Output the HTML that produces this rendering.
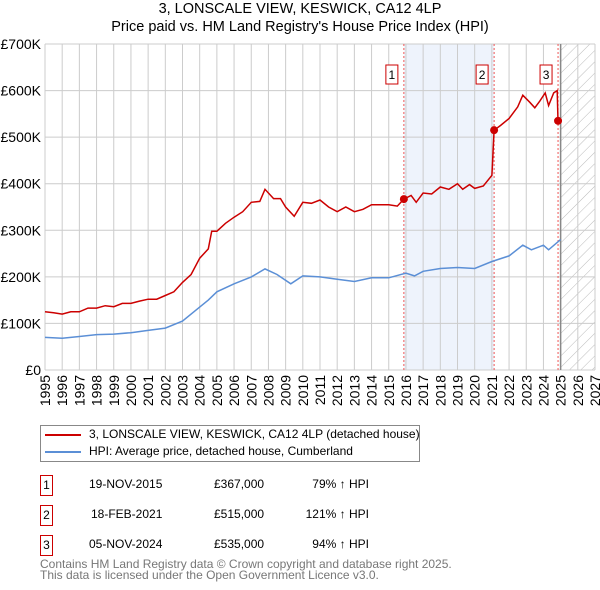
<!DOCTYPE html>
<html><head><meta charset="utf-8"><style>
body{margin:0;background:#fff;font-family:"Liberation Sans","DejaVu Sans",sans-serif;}
#wrap{position:relative;width:600px;height:590px;overflow:hidden}
.t{position:absolute;font-size:12px;color:#000;white-space:nowrap}
.box{position:absolute;width:11px;height:19px;border:1px solid #c00;font-size:12px;text-align:center;line-height:19px}
</style></head><body><div id="wrap">
<div class="t" style="left:0;width:600px;text-align:center;top:1px;font-size:14.5px">3, LONSCALE VIEW, KESWICK, CA12 4LP</div>
<div class="t" style="left:0;width:600px;text-align:center;top:19px;font-size:14.5px">Price paid vs. HM Land Registry's House Price Index (HPI)</div>
<svg id="chart" width="600" height="420" style="position:absolute;left:0;top:0"></svg>
<div style="position:absolute;left:40px;top:425px;width:378px;height:35px;border:1px solid #888">
<div style="position:absolute;left:4px;top:8px;width:36px;height:2px;background:#c00"></div>
<div class="t" style="left:48px;top:1px">3, LONSCALE VIEW, KESWICK, CA12 4LP (detached house)</div>
<div style="position:absolute;left:4px;top:25px;width:36px;height:2px;background:#5b8fd6"></div>
<div class="t" style="left:48px;top:18px">HPI: Average price, detached house, Cumberland</div>
</div>
<div>
<div class="box" style="left:40px;top:475px">1</div>
<div class="t" style="left:89px;top:477px">19-NOV-2015</div>
<div class="t" style="left:214px;top:477px">£367,000</div>
<div class="t" style="right:231px;top:477px">79% ↑ HPI</div>
<div class="box" style="left:40px;top:505px">2</div>
<div class="t" style="left:91px;top:507px">18-FEB-2021</div>
<div class="t" style="left:214px;top:507px">£515,000</div>
<div class="t" style="right:231px;top:507px">121% ↑ HPI</div>
<div class="box" style="left:40px;top:535px">3</div>
<div class="t" style="left:89px;top:537px">05-NOV-2024</div>
<div class="t" style="left:214px;top:537px">£535,000</div>
<div class="t" style="right:231px;top:537px">94% ↑ HPI</div>
</div>
<div class="t" style="left:40px;top:559px;color:#777;line-height:11px">Contains HM Land Registry data © Crown copyright and database right 2025.<br>This data is licensed under the Open Government Licence v3.0.</div>
</div>
<script>
const yTicks=[0,100,200,300,400,500,600,700];
const yLabels=["£0","£100K","£200K","£300K","£400K","£500K","£600K","£700K"];
const years=[1995,1996,1997,1998,1999,2000,2001,2002,2003,2004,2005,2006,2007,2008,2009,2010,2011,2012,2013,2014,2015,2016,2017,2018,2019,2020,2021,2022,2023,2024,2025,2026,2027];
const priceT=[1995,1995.5,1996,1996.5,1997,1997.5,1998,1998.5,1999,1999.5,2000,2000.5,2001,2001.5,2002,2002.5,2003,2003.5,2004,2004.5,2004.7,2005,2005.5,2006,2006.5,2007,2007.5,2007.8,2008.3,2008.7,2009,2009.5,2010,2010.5,2011,2011.5,2012,2012.5,2013,2013.5,2014,2014.5,2015,2015.5,2015.88,2016.3,2016.6,2017,2017.5,2018,2018.5,2019,2019.3,2019.7,2020,2020.5,2021,2021.13,2021.5,2022,2022.5,2022.8,2023.2,2023.5,2023.8,2024.1,2024.3,2024.6,2024.8,2024.85];
const priceV=[125,123,120,125,125,133,133,138,136,143,143,148,152,152,160,168,188,205,240,260,298,298,315,328,340,360,362,388,368,368,350,330,360,358,365,350,340,350,340,345,355,355,355,352,367,375,360,380,378,393,388,400,388,398,390,395,418,515,525,540,565,590,575,563,578,595,568,595,600,535];
const hpiT=[1995,1996,1997,1998,1999,2000,2001,2002,2003,2004,2004.5,2005,2006,2007,2007.8,2008.5,2009.3,2010,2011,2012,2013,2014,2015,2016,2016.5,2017,2018,2019,2020,2021,2022,2022.8,2023.3,2024,2024.3,2025];
const hpiV=[70,68,72,76,77,80,85,90,105,135,150,168,185,200,217,205,185,202,200,195,190,198,198,208,202,212,218,220,218,233,245,268,258,268,258,280];
const saleT=[2015.88,2021.13,2024.85];
const saleV=[367,515,535];
const saleL=["1","2","3"];
const X0=45,X1=595,Y0=370,Y1=44;
const x=t=>X0+(t-1995)*(X1-X0)/32;
const y=v=>Y0-v*(Y0-Y1)/700;
const svg=document.getElementById('chart');const NS='http://www.w3.org/2000/svg';
function mk(tag,at){const e=document.createElementNS(NS,tag);for(const k in at)e.setAttribute(k,at[k]);svg.appendChild(e);return e;}
let defs=mk('defs',{});
defs.innerHTML='<pattern id="hatch" width="8" height="8" patternUnits="userSpaceOnUse" patternTransform="rotate(45)"><line x1="0" y1="0" x2="0" y2="8" stroke="#bbb" stroke-width="1"/></pattern>';
let r=mk('rect',{x:x(saleT[0]),y:Y1,width:x(saleT[1])-x(saleT[0]),height:Y0-Y1,fill:'#eef3fc'});


let h=mk('rect',{x:x(2025),y:Y1,width:X1-x(2025),height:Y0-Y1,fill:'url(#hatch)'});


yTicks.forEach((v,i)=>{let l=mk('line',{x1:X0,x2:X1,y1:y(v),y2:y(v),stroke:'#ccc'});


let t=mk('text',{x:X0-4,y:y(v)+5,'text-anchor':'end','font-size':14,'font-family':'Liberation Sans, sans-serif'});t.textContent=yLabels[i];

});
years.forEach(yr=>{let l=mk('line',{x1:x(yr),x2:x(yr),y1:Y1,y2:Y0,stroke:'#ccc'});


let t=mk('text',{x:0,y:0,'text-anchor':'end','font-size':14,'font-family':'Liberation Sans, sans-serif',transform:`translate(${x(yr)+5},${Y0+5}) rotate(-90)`});t.textContent=yr;

});
let vl=mk('line',{x1:x(2025),x2:x(2025),y1:Y1,y2:Y0,stroke:'#888','stroke-width':1.5});


saleT.forEach((t,i)=>{let l=mk('line',{x1:x(t),x2:x(t),y1:Y1,y2:Y0,stroke:'#e55','stroke-dasharray':'2,2'});


let b=mk('rect',{x:x(t)-18,y:65,width:12,height:19,fill:'#fff',stroke:'#c00'});


let tx=mk('text',{x:x(t)-12,y:79,'text-anchor':'middle','font-size':12,'font-family':'Liberation Sans, sans-serif'});tx.textContent=saleL[i];

});
const path=(T,V)=>T.map((t,i)=>(i?'L':'M')+x(t).toFixed(1)+','+y(V[i]).toFixed(1)).join('');
let hp=mk('path',{d:path(hpiT,hpiV),fill:'none',stroke:'#5b8fd6','stroke-width':1.5});


let pp=mk('path',{d:path(priceT,priceV),fill:'none',stroke:'#c00','stroke-width':1.5});


saleT.forEach((t,i)=>{let c=mk('circle',{cx:x(t),cy:y(saleV[i]),r:4,fill:'#c00'});

});
</script></body></html>
